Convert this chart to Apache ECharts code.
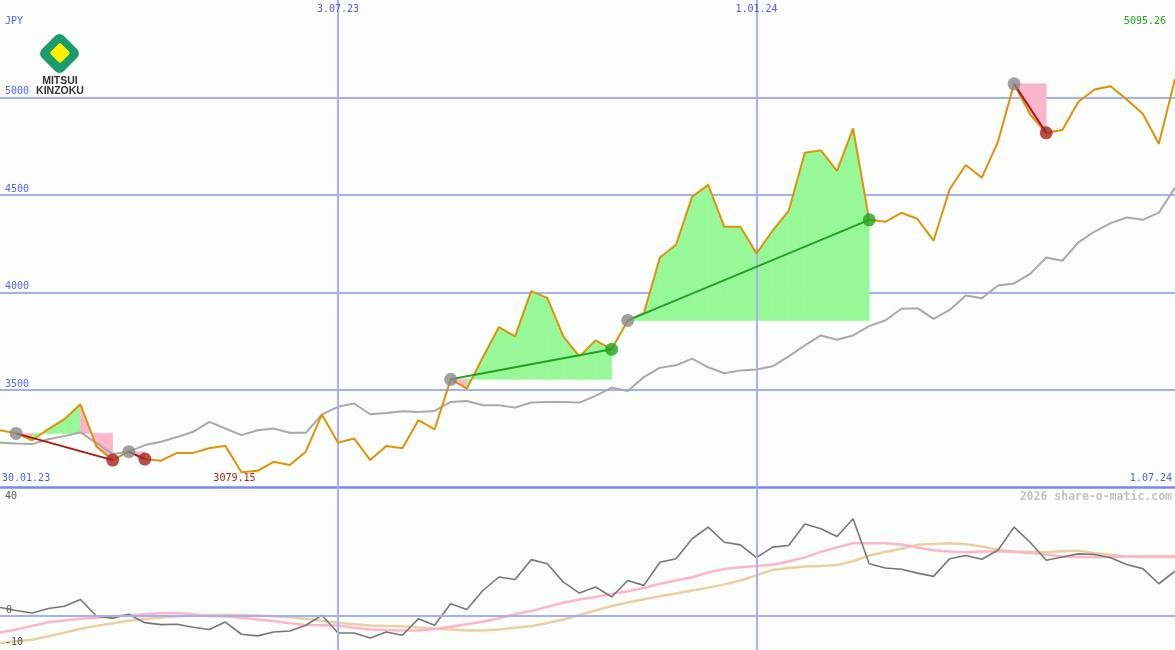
<!DOCTYPE html>
<html><head><meta charset="utf-8">
<script src="https://cdn.jsdelivr.net/npm/echarts@6/dist/echarts.min.js"></script>
<style>html,body{margin:0;padding:0;background:#fbfdfb;}#c{width:1175px;height:650px;}</style>
</head><body><div id="c"></div>
<script>
// ---- data ----
const currency = 'JPY';
const startLabel = '30.01.23';
const endLabel = '1.07.24';
const dateMarkIdx = [21, 47];
const dateMarkLabels = ['3.07.23', '1.01.24'];
const priceTicks = [3500, 4000, 4500, 5000];
const oscTickLabels = ['40', '0', '-10'];
const watermark = '2026 share-o-matic.com';

const price = [3294,3278,3243,3300,3351,3427,3209,3141,3184,3146,
  3138,3178,3178,3202,3214,3079.15,3086,3132,3116,3184,
  3375,3230,3252,3141,3213,3202,3346,3298,3555,3507,
  3668,3823,3775,4007,3973,3775,3673,3755,3709,3857,
  3894,4180,4245,4491,4552,4337,4337,4201,4317,4419,
  4717,4729,4624,4841,4373,4363,4409,4377,4266,4530,
  4654,4589,4773,5070,4913,4819,4833,4978,5041,5058,
  4990,4917,4763,5095.26];
const movingAvg = [3230,3226,3223,3248,3264,3283,3228,3172,3184,3218,
  3235,3259,3286,3337,3303,3269,3294,3303,3281,3281,
  3375,3414,3431,3376,3383,3392,3388,3393,3439,3444,
  3422,3422,3410,3436,3439,3439,3436,3470,3513,3495,
  3567,3615,3627,3661,3617,3586,3601,3606,3622,3673,
  3729,3780,3758,3780,3828,3857,3917,3920,3865,3911,
  3985,3971,4036,4047,4096,4180,4163,4257,4313,4356,
  4385,4373,4410,4538];
const oscMain = [2.7,1.8,1.0,2.4,3.1,5.2,0,-0.6,0.6,-2.0,
  -2.6,-2.5,-3.4,-4.1,-1.8,-5.6,-6.1,-4.9,-4.6,-2.8,
  0.3,-5.2,-5.2,-6.8,-4.9,-5.9,-0.75,-2.8,3.9,2.1,
  8.0,12.2,11.4,17.6,16.3,10.6,7.2,9.1,6.0,11.1,
  9.6,16.8,17.9,24.1,27.7,23.0,22.2,18.2,21.5,22.0,
  28.7,27.2,24.8,30.3,16.3,15.0,14.6,13.4,12.4,17.9,
  18.9,17.7,20.5,27.7,23.0,17.4,18.4,19.4,19.2,18.2,
  16.1,14.8,10.1,14.0];
const oscFast = [-5.1,-4.1,-3.0,-1.9,-1.3,-0.75,-0.5,0,0.3,0.6,
  0.9,1.0,0.6,0.1,-0.1,-0.5,-1.0,-1.5,-2.2,-2.7,
  -2.8,-2.9,-3.6,-4.1,-4.3,-4.4,-4.4,-4.0,-3.3,-2.5,
  -1.7,-0.65,0.6,1.6,2.9,4.2,5.2,6.0,6.9,7.8,
  8.8,10.1,11.1,12.1,13.6,14.7,15.2,15.6,16.0,17.0,
  18.3,20.0,21.4,22.7,22.7,22.7,22.3,21.4,20.5,20.1,
  19.9,20.1,20.2,20.0,19.7,19.2,18.6,18.4,18.4,18.4,
  18.6,18.6,18.6,18.6];
const oscSlow = [-8.3,-7.8,-7.3,-6.2,-5.1,-3.9,-3.0,-2.2,-1.4,-0.9,
  -0.4,0,0.2,0.4,0.5,0.4,0.2,0,-0.3,-0.8,
  -1.4,-2.0,-2.5,-2.9,-3.0,-3.1,-3.5,-3.8,-4.1,-4.4,
  -4.4,-4.1,-3.6,-3.1,-2.1,-1.0,0.4,1.8,3.2,4.3,
  5.3,6.2,7.1,8.0,8.9,9.9,11.1,12.7,14.4,15.0,
  15.5,15.6,15.9,17.1,18.9,20.0,21.0,22.2,22.5,22.7,
  22.4,21.7,20.7,20.1,20.0,19.9,20.2,20.4,19.6,19.1,
  18.6,18.4,18.4,18.4];
const tradeEntry = [1, 8, 28, 39, 63];
const tradeExit  = [7, 9, 38, 54, 65];

// ---- build ----
const N = price.length;
const pairs = arr => arr.map((v, i) => [i, v]);
const mono = '"DejaVu Sans Mono", monospace';
const GREEN_FILL = '#97f897', PINK_FILL = '#f9b5ca';

const fillData = [];
tradeEntry.forEach((e, t) => {
  const x = tradeExit[t], lv = price[e];
  for (let i = e; i < x; i++) fillData.push([i, i + 1, lv, price[i], price[i + 1]]);
});

const tradeSeries = [];
const dotData = [];
tradeEntry.forEach((e, t) => {
  const x = tradeExit[t];
  const win = price[x] > price[e];
  tradeSeries.push({
    type: 'line', xAxisIndex: 0, yAxisIndex: 0, z: 6, silent: true,
    data: [[e, price[e]], [x, price[x]]], showSymbol: false,
    lineStyle: { color: win ? '#25a025' : '#a01c1c', width: 2 }
  });
  dotData.push({ value: [e, price[e]], itemStyle: { color: '#888888' } });
  dotData.push({ value: [x, price[x]], itemStyle: { color: win ? '#22a022' : '#a82222' } });
});

const vLineStyle = { color: '#a6b1f1', width: 2, type: 'solid' };
const chart = echarts.init(document.getElementById('c'), null, { renderer: 'canvas' });
const option = {
  backgroundColor: '#fbfdfb',
  animation: false,
  grid: [
    { left: 0, right: 0, top: 0, height: 487.6 },
    { left: 0, right: 0, top: 487.6, height: 162.4 }
  ],
  xAxis: [
    { gridIndex: 0, type: 'value', min: 0, max: N - 1,
      axisLine: { show: true, onZero: false, lineStyle: { color: '#7887ee', width: 2.5 } },
      axisTick: { show: false }, axisLabel: { show: false }, splitLine: { show: false } },
    { gridIndex: 1, type: 'value', min: 0, max: N - 1, show: false }
  ],
  yAxis: [
    { gridIndex: 0, type: 'value', min: 3000, max: 5500, interval: 500,
      axisLine: { show: false }, axisTick: { show: false },
      splitLine: { show: true, showMinLine: false, showMaxLine: false, lineStyle: { color: '#a4b0f2', width: 2 } },
      axisLabel: { inside: true, margin: 5, verticalAlign: 'bottom', padding: [0, 0, 1, 0],
        fontFamily: mono, fontSize: 10, color: '#5565ee',
        formatter: v => priceTicks.indexOf(v) >= 0 ? String(v) : '' } },
    { gridIndex: 1, type: 'value', min: -10.5, max: 40, show: false }
  ],
  series: [
    { type: 'line', xAxisIndex: 0, yAxisIndex: 0, data: [], z: 1, silent: true,
      markLine: { silent: true, symbol: 'none', label: { show: false }, lineStyle: vLineStyle,
        data: dateMarkIdx.map(d => ({ xAxis: d })) } },
    { type: 'line', xAxisIndex: 1, yAxisIndex: 1, data: [], z: 1, silent: true,
      markLine: { silent: true, symbol: 'none', label: { show: false }, lineStyle: vLineStyle,
        data: dateMarkIdx.map(d => ({ xAxis: d })).concat([{ yAxis: 0, lineStyle: { color: '#a4b0f2', width: 2 } }]) } },
    { type: 'custom', xAxisIndex: 0, yAxisIndex: 0, z: 3, silent: true, data: fillData,
      renderItem: (params, api) => {
        const i0 = api.value(0), i1 = api.value(1), lv = api.value(2), a = api.value(3), b = api.value(4);
        const c = b >= lv ? GREEN_FILL : PINK_FILL;
        return { type: 'polygon',
          shape: { points: [api.coord([i0, lv]), api.coord([i0, a]), api.coord([i1, b]), api.coord([i1, lv])] },
          style: { fill: c, stroke: c, lineWidth: 0.6 } };
      } },
    { type: 'line', xAxisIndex: 0, yAxisIndex: 0, z: 4, silent: true, data: pairs(movingAvg),
      showSymbol: false, lineStyle: { color: '#a9a9a9', width: 2 } },
    { type: 'line', xAxisIndex: 0, yAxisIndex: 0, z: 5, silent: true, data: pairs(price),
      showSymbol: false, lineStyle: { color: '#de9208', width: 2 } },
    ...tradeSeries,
    { type: 'scatter', xAxisIndex: 0, yAxisIndex: 0, z: 7, silent: true, symbolSize: 13, data: dotData },
    { type: 'line', xAxisIndex: 1, yAxisIndex: 1, z: 3, silent: true, data: pairs(oscSlow),
      showSymbol: false, lineStyle: { color: '#e8d0a2', width: 2.5 } },
    { type: 'line', xAxisIndex: 1, yAxisIndex: 1, z: 3, silent: true, data: pairs(oscFast),
      showSymbol: false, lineStyle: { color: '#fbb6ca', width: 2.5 } },
    { type: 'line', xAxisIndex: 1, yAxisIndex: 1, z: 4, silent: true, data: pairs(oscMain),
      showSymbol: false, lineStyle: { color: '#777777', width: 1.6 } }
  ]
};
chart.setOption(option);

// ---- text labels placed through the chart's own coordinate conversion ----
const px0 = p => chart.convertToPixel({ gridIndex: 0 }, p);
const px1 = p => chart.convertToPixel({ gridIndex: 1 }, p);
function txt(x, y, s, color, align, extra) {
  return Object.assign({ type: 'text', x: x, y: y, z: 100, silent: true,
    style: { text: s, fill: color, font: '10px ' + mono, align: align, textAlign: align,
      verticalAlign: 'middle', textVerticalAlign: 'middle' } }, extra || {});
}
const bottomTop = px0([0, 3000])[1];
let minIdx = 0;
price.forEach((v, i) => { if (v < price[minIdx]) minIdx = i; });
const g = [];
g.push(txt(5, 21, currency, '#5565ee', 'left'));
g.push(txt(1166, 21, price[N - 1].toFixed(2), '#22a022', 'right'));
dateMarkIdx.forEach((d, k) => g.push(txt(px0([d, 3000])[0], 9, dateMarkLabels[k], '#4a5cf5', 'center')));
g.push(txt(2, bottomTop - 9, startLabel, '#4a5cf5', 'left'));
g.push(txt(1172, bottomTop - 9, endLabel, '#4a5cf5', 'right'));
g.push(txt(px0([minIdx, price[minIdx]])[0] - 7, bottomTop - 9, price[minIdx].toFixed(2), '#a52222', 'center'));
const wm = txt(1172, bottomTop + 9, watermark, '#c2c2c2', 'right');
wm.style.font = 'bold 11.5px ' + mono;
g.push(wm);
const oscVals = [40, 0, -10];
oscVals.forEach((v, k) => {
  const y = px1([0, v])[1];
  const yy = k === 0 ? y + 9 : y - 6;
  g.push(txt(k === 1 ? 6 : 5, yy, oscTickLabels[k], '#555555', 'left'));
});
// logo
g.push({ type: 'rect', x: 59.5, y: 53.5, rotation: Math.PI / 4, z: 100, silent: true,
  shape: { x: -15.5, y: -15.5, width: 31, height: 31, r: 6 }, style: { fill: '#1b9c6d' } });
g.push({ type: 'rect', x: 60, y: 53, rotation: Math.PI / 4, z: 101, silent: true,
  shape: { x: -7.5, y: -7.5, width: 15, height: 15, r: 2.5 }, style: { fill: '#fff100' } });
g.push({ type: 'rect', x: 35, y: 85, z: 100, silent: true, shape: { x: 0, y: 0, width: 50, height: 11 }, style: { fill: '#ffffff' } });
g.push({ type: 'text', x: 60, y: 81, z: 101, silent: true,
  style: { text: 'MITSUI', fill: '#333333', font: 'bold 10.5px "Liberation Sans", Arial', align: 'center', textAlign: 'center', verticalAlign: 'middle', textVerticalAlign: 'middle' } });
g.push({ type: 'text', x: 60, y: 91, z: 101, silent: true,
  style: { text: 'KINZOKU', fill: '#333333', font: 'bold 10.5px "Liberation Sans", Arial', align: 'center', textAlign: 'center', verticalAlign: 'middle', textVerticalAlign: 'middle' } });
chart.setOption({ graphic: g });
</script>
</body></html>
